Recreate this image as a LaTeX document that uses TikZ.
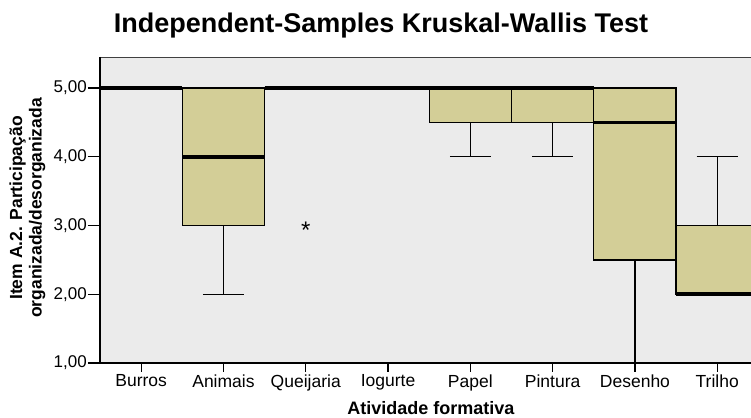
\documentclass[tikz,border=0pt]{standalone}
\usepackage{fontspec}
\setmainfont{Liberation Sans}
\definecolor{plotbg}{RGB}{235,235,235}
\definecolor{boxfill}{RGB}{211,206,151}

\begin{document}
\begin{tikzpicture}[x=82.3pt,y=68.75pt,
	boxplot/.style={fill=boxfill,draw=black,line width=1.3pt},
	medianline/.style={line width=3.6pt},
	whiskerline/.style={line width=1.1pt},
	axistick/.style={line width=1.3pt}]

\useasboundingbox (-1.2151,0.2) rectangle (7.9101,6.28);

% plot area
\fill[plotbg] (0,1) rectangle (7.95,5.451);
\draw[line width=0.8pt,color=black!75] (0,5.451)--(7.95,5.451);

% Animais
\draw[whiskerline] (1.5,3)--(1.5,2);
\draw[whiskerline] (1.25,2)--(1.75,2);
\draw[boxplot] (1,3) rectangle (2,5);
\draw[medianline] (1,4)--(2,4);
\node (out) at (2.5,3) [yshift=-5pt,font=\fontsize{24}{24}\selectfont] {*};

% Papel, Pintura
\foreach \c in {4,5}{
	\draw[whiskerline] ({\c+0.5},4.5)--({\c+0.5},4);
	\draw[whiskerline] ({\c+0.25},4)--({\c+0.75},4);
	\draw[boxplot] (\c,4.5) rectangle ({\c+1},5);
}

% Desenho
\draw[whiskerline] (6.5,2.5)--(6.5,1);
\draw[boxplot] (6,2.5) rectangle (7,5);
\draw[medianline] (6,4.5)--(7,4.5);

% Trilho
\draw[whiskerline] (7.5,3)--(7.5,4);
\draw[whiskerline] (7.25,4)--(7.75,4);
\draw[boxplot] (7,2) rectangle (8,3);
\draw[medianline] (7,2)--(8,2);

% medians at 5,00
\draw[medianline] (0,5)--(1,5);
\draw[medianline] (2,5)--(6,5);

% axes
\draw[line width=1.6pt] (0,5.451)--(0,1)--(7.95,1);

\foreach \v in {1,...,5}{
	\draw[axistick] (-0.146,\v)--(0,\v);
	\node (ly\v) at (-0.146,\v) [left,inner sep=1pt,font=\fontsize{17}{17}\selectfont] {\v,00};
}

\foreach \n [count=\i] in {Burros,Animais,Queijaria,Iogurte,Papel,Pintura,Desenho,Trilho}{
	\draw[axistick] ({\i-0.5},1)--({\i-0.5},0.869);
	\node (c\i) at ({\i-0.5},0.869) [below,inner sep=2.5pt,font=\fontsize{17.5}{17.5}\selectfont] {\n};
}

\node (xlab) at (4.02,0.345) [font=\bfseries\fontsize{18}{18}\selectfont] {Atividade formativa};
\node (ylab) at (-0.881,3.2545) [rotate=90,align=center,font=\bfseries\fontsize{17.5}{19.5}\selectfont]
	{Item A.2. Participação\\organizada/desorganizada};
\node (title) at (3.414,5.916) [font=\bfseries\fontsize{27}{27}\selectfont] {Independent-Samples Kruskal-Wallis Test};

\end{tikzpicture}
\end{document}
